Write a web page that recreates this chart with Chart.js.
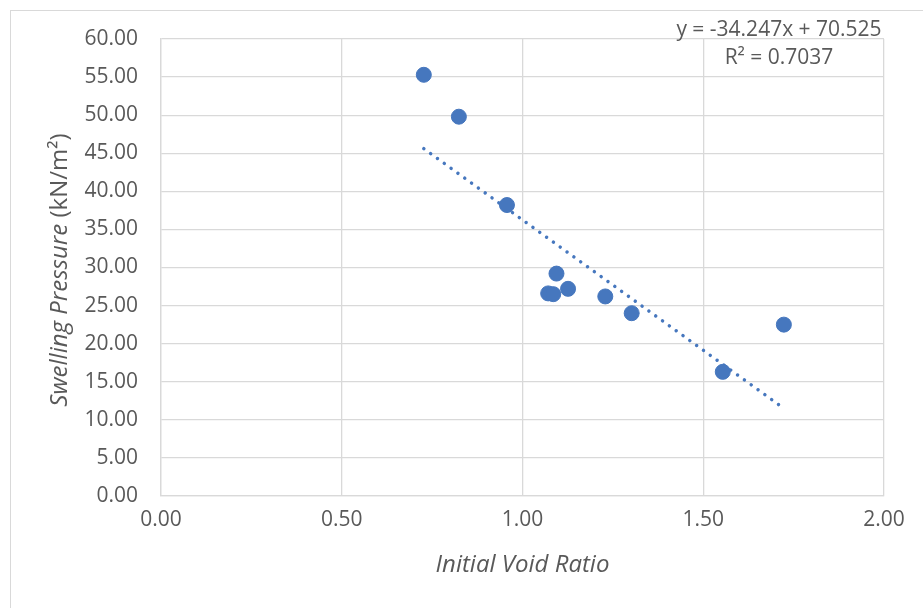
<!DOCTYPE html>
<html>
<head>
<meta charset="utf-8">
<script src="https://cdn.jsdelivr.net/npm/chart.js@4.4.1/dist/chart.umd.min.js"></script>
<style>
  html, body { margin: 0; padding: 0; background: #fff; }
  #box { width: 923px; height: 608px; }
</style>
</head>
<body>
<div id="box"><canvas id="grafico"></canvas></div>
<script>
// valores
const voidRatio = [0.727, 0.824, 0.957, 1.094, 1.071, 1.085, 1.126, 1.229, 1.302, 1.554, 1.723];
const swellingPressure = [55.3, 49.8, 38.2, 29.2, 26.6, 26.5, 27.2, 26.2, 24.0, 16.3, 22.5];

// linha de tendência (pontas)
const trendX = [0.727, 1.723];
const trendY = [45.6, 11.5];
const trendLabels = ["y = -34.247x + 70.525", "R² = 0.7037"];

const xTicks = [0, 0.5, 1, 1.5, 2];
const yTicks = [0, 5, 10, 15, 20, 25, 30, 35, 40, 45, 50, 55, 60];

const fonte = "'Open Sans', sans-serif";
const cinza = "#595959";
const azul = "#4677be";

document.addEventListener("DOMContentLoaded", () => {
    const ctx = document.getElementById('grafico').getContext('2d');

    // moldura, títulos dos eixos e a equação
    const extras = {
        id: 'extras',
        beforeDraw(chart) {
            const c = chart.ctx;
            c.save();
            c.fillStyle = '#fff';
            c.fillRect(0, 0, chart.width, chart.height);
            c.strokeStyle = '#d9d9d9';
            c.lineWidth = 1;
            c.strokeRect(10.5, 10.5, 920, 640);
            c.restore();
        },
        afterDraw(chart) {
            const c = chart.ctx;
            const area = chart.chartArea;
            c.save();
            c.fillStyle = cinza;
            c.textBaseline = 'middle';

            // título do eixo x
            c.font = "italic 24px " + fonte;
            c.textAlign = 'center';
            c.fillText("Initial Void Ratio", (area.left + area.right) / 2, 565);

            // título do eixo y (parte em itálico)
            const p1 = "Swelling Pressure";
            const p2 = " (kN/m²)";
            c.translate(60, 270);
            c.rotate(-Math.PI / 2);
            c.font = "italic 24px " + fonte;
            const w1 = c.measureText(p1).width;
            c.font = "24px " + fonte;
            const w2 = c.measureText(p2).width;
            c.textAlign = 'left';
            c.font = "italic 24px " + fonte;
            c.fillText(p1, -(w1 + w2) / 2, 0);
            c.font = "24px " + fonte;
            c.fillText(p2, -(w1 + w2) / 2 + w1, 0);
            c.restore();

            // equação da tendência
            c.save();
            c.fillStyle = cinza;
            c.font = "21px " + fonte;
            c.textAlign = 'center';
            c.textBaseline = 'middle';
            c.fillText(trendLabels[0], 779, 30);
            c.fillText(trendLabels[1], 779, 58);
            c.restore();
        }
    };

    const config = {
        type: 'scatter',
        data: {
            datasets: [
                {
                    label: 'Pressão',
                    data: voidRatio.map((x, i) => ({ x: x, y: swellingPressure[i] })),
                    backgroundColor: azul,
                    borderColor: azul,
                    pointRadius: 7.5,
                    pointHoverRadius: 7.5,
                    order: 1
                },
                {
                    label: 'Tendência',
                    type: 'line',
                    data: trendX.map((x, i) => ({ x: x, y: trendY[i] })),
                    borderColor: azul,
                    borderWidth: 3.5,
                    borderDash: [0.01, 8.4],
                    borderCapStyle: 'round',
                    pointRadius: 0,
                    fill: false,
                    order: 2
                }
            ]
        },
        options: {
            responsive: true,
            maintainAspectRatio: false,
            animation: false,
            layout: { padding: { left: 10, right: 39, top: 39, bottom: 0 } },
            plugins: {
                legend: { display: false },
                tooltip: { enabled: false }
            },
            scales: {
                x: {
                    type: 'linear',
                    min: 0,
                    max: 2,
                    afterBuildTicks(axis) { axis.ticks = xTicks.map(v => ({ value: v })); },
                    afterFit(axis) { axis.height = 112; },
                    ticks: {
                        callback: v => Number(v).toFixed(2),
                        color: cinza,
                        font: { family: fonte, size: 21 },
                        padding: 11,
                        maxRotation: 0
                    },
                    grid: { color: '#d9d9d9', lineWidth: 1.3, drawTicks: false },
                    border: { color: '#d9d9d9', width: 1.3 }
                },
                y: {
                    min: 0,
                    max: 60,
                    afterBuildTicks(axis) { axis.ticks = yTicks.map(v => ({ value: v })); },
                    afterFit(axis) { axis.width = 151; },
                    ticks: {
                        callback: v => Number(v).toFixed(2),
                        color: cinza,
                        font: { family: fonte, size: 21 },
                        padding: 23
                    },
                    grid: { color: '#d9d9d9', lineWidth: 1.3, drawTicks: false },
                    border: { color: '#d9d9d9', width: 1.3 }
                }
            }
        },
        plugins: [extras]
    };

    new Chart(ctx, config);
});
</script>
</body>
</html>
